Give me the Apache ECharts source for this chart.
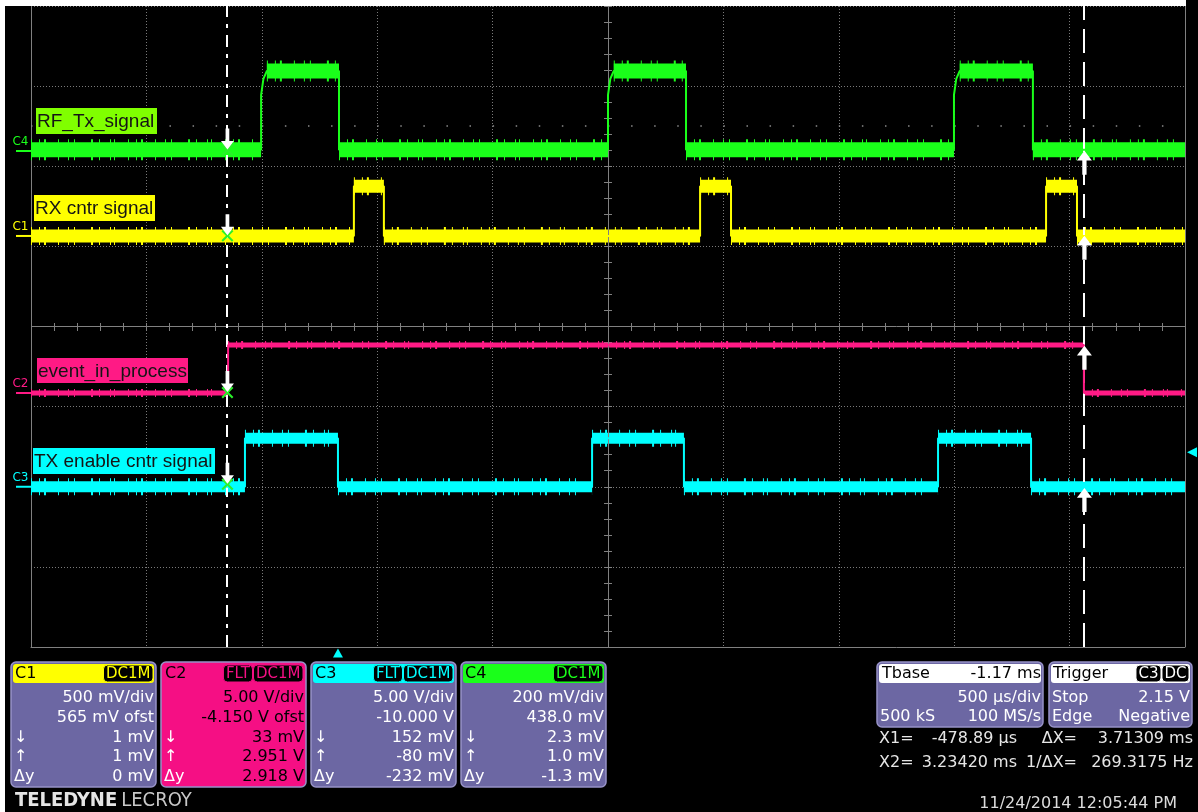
<!DOCTYPE html>
<html>
<head>
<meta charset="utf-8">
<script src="https://cdn.jsdelivr.net/npm/echarts@6/dist/echarts.min.js"></script>
<style>
html,body{margin:0;padding:0;background:#ffffff;}
#c{width:1198px;height:812px;}
</style>
</head>
<body>
<div id="c"></div>
<script>
// ------------------------------------------------------------------ data
const timeStart = -1.33;          // ms at the left edge of the screen
const timePerDiv = 0.5;           // 500 us/div
const xDivisions = 10;
const yDivisions = 8;

const channelNames = ['C1', 'C2', 'C3', 'C4'];
const voltsPerDiv = [0.5, 5, 5, 0.2];
const offsetVolts = [0.565, -4.15, -10.0, 0.438];

// switching times (ms) of each trace, alternating low->high / high->low
const c1EdgeTimes = [0.069, 0.199, 1.569, 1.703, 3.068, 3.202];
const c1LowHigh = [0.0, 0.31];
const c2EdgeTimes = [-0.476, 3.232];
const c2LowHigh = [0.0, 3.0];
const c3EdgeTimes = [-0.403, 0.0, 1.101, 1.499, 2.600, 3.003];
const c3LowHigh = [0.0, 3.02];
const c4EdgeTimes = [-0.333, 0.0045, 1.170, 1.508, 2.669, 3.011];
const c4LowHigh = [0.003, 0.2];
const c4RiseShape = [[0, 0.14], [0.01, 0.18], [0.025, 0.2]];   // rounded top after each rise

const traceNames = ['RX cntr signal', 'event_in_process', 'TX enable cntr signal', 'RF_Tx_signal'];

const cursorTimes = [-0.47889, 3.23420];
const cursorDownValues = [0.001, 0.033, 0.152, 0.0023];
const cursorUpValues = [0.001, 2.951, -0.080, 0.001];

const triggerTime = 0;
const triggerLevel = 2.15;

const panelBadges = [['DC1M'], ['FLT', 'DC1M'], ['FLT', 'DC1M'], ['DC1M']];
const panelRows = [
  ['500 mV/div', '565 mV ofst', '1 mV', '1 mV', '0 mV'],
  ['5.00 V/div', '-4.150 V ofst', '33 mV', '2.951 V', '2.918 V'],
  ['5.00 V/div', '-10.000 V', '152 mV', '-80 mV', '-232 mV'],
  ['200 mV/div', '438.0 mV', '2.3 mV', '1.0 mV', '-1.3 mV']
];
const rowSymbols = ['', '', '\u2193', '\u2191', '\u0394y'];
const tbaseTexts = ['Tbase', '-1.17 ms', '500 \u00b5s/div', '500 kS', '100 MS/s'];
const triggerTexts = ['Trigger', 'C3', 'DC', 'Stop', '2.15 V', 'Edge', 'Negative'];
const cursorTexts = [['X1=', '-478.89 \u00b5s', '\u0394X=', '3.71309 ms'], ['X2=', '3.23420 ms', '1/\u0394X=', '269.3175 Hz']];
const dateText = '11/24/2014 12:05:44 PM';
const brandTexts = ['TELEDYNE', 'LECROY'];

// ------------------------------------------------------------------ styles
const traceColors = ['#ffff00', '#ff1a85', '#00ffff', '#1aff1a'];
const boxColors = ['#ffff00', '#ff1a85', '#00ffff', '#80ff00'];
const bandWidths = [13, 5, 11, 15];
const noiseExtra = [5, 3, 6, 6];
const gridGray = '#808080';
const dotGray = '#7a7a7a';
const panelBody = '#6c67a3';
const panelBorder = '#9792c8';
const pink = '#f50f84';
const FONT = '16px "DejaVu Sans", sans-serif';

const timeEnd = timeStart + xDivisions * timePerDiv;
const edgeSets = [c1EdgeTimes, c2EdgeTimes, c3EdgeTimes, c4EdgeTimes];
const levelSets = [c1LowHigh, c2LowHigh, c3LowHigh, c4LowHigh];
const riseShapes = [null, null, null, c4RiseShape];

function chMin(k) { return -offsetVolts[k] - yDivisions / 2 * voltsPerDiv[k]; }
function chMax(k) { return -offsetVolts[k] + yDivisions / 2 * voltsPerDiv[k]; }

function stepLine(edges, lh, shape) {
  const d = [[timeStart, lh[0]]];
  edges.forEach(function (t, i) {
    const rising = i % 2 === 0;
    d.push([t, rising ? lh[0] : lh[1]]);
    if (rising && shape) shape.forEach(function (p) { d.push([t + p[0], p[1]]); });
    else d.push([t, rising ? lh[1] : lh[0]]);
  });
  d.push([timeEnd, edges.length % 2 === 0 ? lh[0] : lh[1]]);
  return d;
}
function bandLine(edges, lh, shape) {
  const d = [];
  const b = [timeStart].concat(edges, [timeEnd]);
  for (let i = 0; i < b.length - 1; i++) {
    const level = i % 2 === 0 ? lh[0] : lh[1];
    let a = b[i];
    if (i % 2 === 1 && shape) a += shape[shape.length - 1][0];
    d.push([a, level], [b[i + 1], level], [b[i + 1], '-']);
  }
  return d;
}

const downArrow = 'path://M5,0 L9,0 L9,13 L14,13 L7,22 L0,13 L5,13 Z';
const upArrow = 'path://M7,0 L14,9 L9,9 L9,22 L5,22 L5,9 L0,9 Z';
const crossMark = 'path://M0,1.5 L1.5,0 L6,4.5 L10.5,0 L12,1.5 L7.5,6 L12,10.5 L10.5,12 L6,7.5 L1.5,12 L0,10.5 L4.5,6 Z';

// ------------------------------------------------------------------ series
const series = [];
// center cross, right border, dotted row
series.push({
  type: 'line', xAxisIndex: 0, yAxisIndex: 0, data: [[0, 0]], symbol: 'none', silent: true,
  lineStyle: { opacity: 0 }, z: 1,
  markLine: {
    symbol: 'none', silent: true, animation: false, label: { show: false },
    lineStyle: { color: gridGray, width: 1, type: 'solid' },
    data: [
      { xAxis: xDivisions / 2 },
      { yAxis: yDivisions / 2 },
      { xAxis: xDivisions },
      { yAxis: 6.5, lineStyle: { color: '#8a8a8a', type: [1.5, 21.58], width: 1.5 } }
    ]
  }
});

const order = [1, 2, 0, 3];
order.forEach(function (k) {
  const band = bandLine(edgeSets[k], levelSets[k], riseShapes[k]);
  const step = stepLine(edgeSets[k], levelSets[k], riseShapes[k]);
  series.push({
    type: 'line', xAxisIndex: 1, yAxisIndex: k + 1, data: band, symbol: 'none', silent: true, z: 3,
    connectNulls: false,
    lineStyle: { color: traceColors[k], width: bandWidths[k] + noiseExtra[k], cap: 'butt',
      type: [1, 7, 1, 4, 2, 12, 1, 9, 1, 5, 1, 16, 2, 6, 1, 10, 1, 3, 1, 13] }
  });
  series.push({
    type: 'line', xAxisIndex: 1, yAxisIndex: k + 1, data: band, symbol: 'none', silent: true, z: 4,
    connectNulls: false,
    lineStyle: { color: traceColors[k], width: bandWidths[k], cap: 'butt' }
  });
  series.push({
    type: 'line', xAxisIndex: 1, yAxisIndex: k + 1, data: step, symbol: 'none', silent: true, z: 5,
    lineStyle: { color: traceColors[k], width: 2 }
  });
});

// cursors
series.push({
  type: 'line', xAxisIndex: 1, yAxisIndex: 1, data: [[cursorTimes[0], 0]], symbol: 'none', silent: true,
  lineStyle: { opacity: 0 }, z: 15,
  markLine: {
    symbol: 'none', silent: true, animation: false, label: { show: false },
    lineStyle: { color: '#ffffff', width: 2 },
    data: [
      { xAxis: cursorTimes[0], lineStyle: { type: [12, 7, 4, 7] } },
      { xAxis: cursorTimes[1], lineStyle: { type: [24, 9] } }
    ]
  }
});

for (let k = 0; k < 4; k++) {
  series.push({
    type: 'scatter', xAxisIndex: 1, yAxisIndex: k + 1, silent: true, z: 20, clip: false,
    data: [[cursorTimes[0], cursorDownValues[k]]],
    symbol: crossMark, symbolSize: [12, 12], itemStyle: { color: '#2af02a', opacity: 1 }
  });
  series.push({
    type: 'scatter', xAxisIndex: 1, yAxisIndex: k + 1, silent: true, z: 21, clip: false,
    data: [[cursorTimes[0], cursorDownValues[k]]],
    symbol: downArrow, symbolSize: [13, 21], symbolOffset: [0, -11], itemStyle: { color: '#ffffff', opacity: 1 }
  });
  series.push({
    type: 'scatter', xAxisIndex: 1, yAxisIndex: k + 1, silent: true, z: 21, clip: false,
    data: [[cursorTimes[1], cursorUpValues[k]]],
    symbol: upArrow, symbolSize: [15, 24], symbolOffset: [0, 12], itemStyle: { color: '#ffffff', opacity: 1 }
  });
  // ground marker + channel name
  series.push({
    type: 'scatter', xAxisIndex: 1, yAxisIndex: k + 1, silent: true, z: 10, clip: false,
    data: [[timeStart, 0]],
    symbol: 'rect', symbolSize: [15, 2], symbolOffset: [-7.5, 0], itemStyle: { color: traceColors[k], opacity: 1 },
    label: { show: true, formatter: channelNames[k], position: 'top', distance: 2, offset: [-3, 0],
      color: traceColors[k], fontSize: 12, fontFamily: 'DejaVu Sans' }
  });
}
// trigger markers
series.push({
  type: 'scatter', xAxisIndex: 1, yAxisIndex: 3, silent: true, z: 10, clip: false,
  data: [[timeEnd, triggerLevel]], symbol: 'triangle', symbolRotate: 90, symbolSize: [10, 10],
  symbolOffset: [7, 0], itemStyle: { color: traceColors[2], opacity: 1 }
});
series.push({
  type: 'scatter', xAxisIndex: 1, yAxisIndex: 3, silent: true, z: 10, clip: false,
  data: [[triggerTime, chMin(2)]], symbol: 'triangle', symbolSize: [10, 9],
  symbolOffset: [0, 6], itemStyle: { color: traceColors[2], opacity: 1 }
});

// ------------------------------------------------------------------ graphics
const ctx = document.createElement('canvas').getContext('2d');
function measure(t, font) { ctx.font = font; return ctx.measureText(t).width; }
function txt(x, y, text, color, align, font) {
  const a = align || 'left';
  return { type: 'text', x: x, y: y, silent: true, z: 100,
    style: { text: text, fill: color, font: font || FONT, textAlign: a, textVerticalAlign: 'middle', align: a, verticalAlign: 'middle' } };
}
function rect(x, y, w, h, fill, stroke, r, lw) {
  return { type: 'rect', silent: true, z: 90, shape: { x: x, y: y, width: w, height: h, r: r || 0 },
    style: { fill: fill, stroke: stroke || null, lineWidth: lw || 1 } };
}
const g = [];
// white margins of the screenshot
g.push({ type: 'rect', silent: true, z: 200, shape: { x: 0, y: 0, width: 1186, height: 6 }, style: { fill: '#ffffff' } });
g.push({ type: 'rect', silent: true, z: 200, shape: { x: 0, y: 0, width: 5, height: 812 }, style: { fill: '#ffffff' } });

// trace name boxes
const boxPos = [[34, 195, 121, 26], [37, 358, 151, 25], [33, 448, 182, 26], [36, 108, 121, 26]];
const BOXFONT = '19px "Liberation Sans", Arial, sans-serif';
for (let k = 0; k < 4; k++) {
  const p = boxPos[k];
  g.push(rect(p[0], p[1], p[2], p[3], boxColors[k]));
  g.push(txt(p[0] + 1, p[1] + p[3] / 2 + 1, traceNames[k], '#151515', 'left', BOXFONT));
}

// channel panels
const BADGEFONT = '15px "DejaVu Sans", sans-serif';
const panelX = [11, 161, 311, 461];
const headerColors = [traceColors[0], pink, traceColors[2], traceColors[3]];
for (let k = 0; k < 4; k++) {
  const px = panelX[k], w = 145, y0 = 662, h = 125;
  const isC2 = k === 1;
  g.push(rect(px, y0, w, h, isC2 ? pink : panelBody, panelBorder, 5, 1.5));
  g.push(rect(px + 2, y0 + 2, w - 4, 19, headerColors[k], null, 3));
  g.push(txt(px + 4, y0 + 12, channelNames[k], '#000000'));
  let right = px + w - 3;
  const bl = panelBadges[k].slice().reverse();
  bl.forEach(function (b) {
    const bw = measure(b, BADGEFONT) + 5;
    g.push(rect(right - bw, y0 + 3, bw, 17, '#000000', headerColors[k], 4, 1));
    g.push(txt(right - bw / 2, y0 + 12, b, headerColors[k], 'center', BADGEFONT));
    right -= bw + 1;
  });
  for (let r = 0; r < 5; r++) {
    const y = 698 + r * 19.7;
    if (rowSymbols[r]) g.push(txt(px + 3, y, rowSymbols[r], '#ffffff'));
    g.push(txt(px + w - 2, y, panelRows[k][r], isC2 ? '#000000' : '#ffffff', 'right'));
  }
}

// timebase panel
g.push(rect(877, 662, 166, 65, panelBody, panelBorder, 5, 1.5));
g.push(rect(879, 664, 162, 19, '#ffffff', null, 3));
g.push(txt(882, 674, tbaseTexts[0], '#000000'));
g.push(txt(1041, 674, tbaseTexts[1], '#000000', 'right'));
g.push(txt(1041, 698, tbaseTexts[2], '#ffffff', 'right'));
g.push(txt(880, 717, tbaseTexts[3], '#ffffff'));
g.push(txt(1041, 717, tbaseTexts[4], '#ffffff', 'right'));
// trigger panel
g.push(rect(1049, 662, 143, 65, panelBody, panelBorder, 5, 1.5));
g.push(rect(1051, 664, 139, 19, '#ffffff', null, 3));
g.push(txt(1053, 674, triggerTexts[0], '#000000'));
(function () {
  let right = 1189;
  [triggerTexts[2], triggerTexts[1]].forEach(function (b) {
    const bw = measure(b, BADGEFONT) + 5;
    g.push(rect(right - bw, 665, bw, 17, '#000000', '#ffffff', 4, 1));
    g.push(txt(right - bw / 2, 674, b, '#ffffff', 'center', BADGEFONT));
    right -= bw + 1;
  });
})();
g.push(txt(1052, 698, triggerTexts[3], '#ffffff'));
g.push(txt(1190, 698, triggerTexts[4], '#ffffff', 'right'));
g.push(txt(1052, 717, triggerTexts[5], '#ffffff'));
g.push(txt(1190, 717, triggerTexts[6], '#ffffff', 'right'));
// cursor readouts
[739, 763].forEach(function (y, i) {
  const t = cursorTexts[i];
  g.push(txt(879, y, t[0], '#e6e6e6'));
  g.push(txt(1017, y, t[1], '#e6e6e6', 'right'));
  g.push(txt(1077, y, t[2], '#e6e6e6', 'right'));
  g.push(txt(1193, y, t[3], '#e6e6e6', 'right'));
});
g.push(txt(1177, 804, dateText, '#dcdcdc', 'right'));
// brand
const BRANDB = 'bold 20px "Liberation Sans Narrow", "DejaVu Sans Condensed", "Liberation Sans", sans-serif';
const BRANDN = '20px "Liberation Sans Narrow", "DejaVu Sans Condensed", "Liberation Sans", sans-serif';
g.push(txt(15, 801, brandTexts[0], '#e4e4e4', 'left', BRANDB));
g.push(txt(15 + measure(brandTexts[0], BRANDB) + 4, 801, brandTexts[1], '#c8c8c8', 'left', BRANDN));

// ------------------------------------------------------------------ option
const hidden = { show: false };
const chanAxes = [0, 1, 2, 3].map(function (k) {
  return { type: 'value', gridIndex: 0, min: chMin(k), max: chMax(k), show: false };
});
const option = {
  backgroundColor: '#000000',
  animation: false,
  grid: [
    { left: 31, top: 6, width: 1154, height: 641, show: false },
    { left: 31, top: 323, width: 1154, height: 8, show: false },
    { left: 604, top: 6, width: 8, height: 641, show: false }
  ],
  xAxis: [
    { type: 'value', gridIndex: 0, min: 0, max: xDivisions, interval: 1,
      axisLine: { show: true, lineStyle: { color: gridGray, width: 1 } }, axisTick: hidden, axisLabel: hidden,
      splitLine: { show: true, lineStyle: { color: dotGray, type: [1, 2], width: 1 } } },
    { type: 'value', gridIndex: 0, min: timeStart, max: timeEnd, show: false },
    { type: 'value', gridIndex: 1, min: 0, max: xDivisions, interval: 0.2,
      axisLine: hidden, axisTick: hidden, axisLabel: hidden,
      splitLine: { show: true, lineStyle: { color: gridGray, width: 1 } } },
    { type: 'value', gridIndex: 2, min: 0, max: 1, show: false }
  ],
  yAxis: [
    { type: 'value', gridIndex: 0, min: 0, max: yDivisions, interval: 1,
      axisLine: { show: true, lineStyle: { color: gridGray, width: 1 } }, axisTick: hidden, axisLabel: hidden,
      splitLine: { show: true, lineStyle: { color: dotGray, type: [1, 2], width: 1 } } }
  ].concat(chanAxes, [
    { type: 'value', gridIndex: 1, min: 0, max: 1, show: false },
    { type: 'value', gridIndex: 2, min: 0, max: yDivisions, interval: 0.2,
      axisLine: hidden, axisTick: hidden, axisLabel: hidden,
      splitLine: { show: true, lineStyle: { color: gridGray, width: 1 } } }
  ]),
  series: series,
  graphic: { elements: g }
};
const chart = echarts.init(document.getElementById('c'));
chart.setOption(option);
</script>
</body>
</html>
